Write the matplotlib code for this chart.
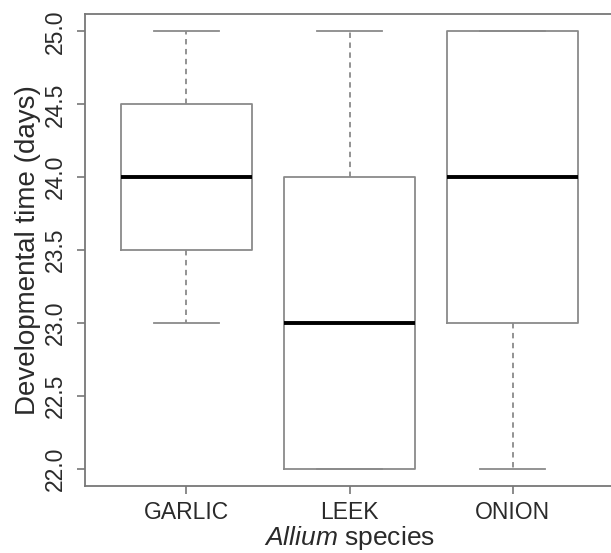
import matplotlib
matplotlib.use("Agg")
import matplotlib.pyplot as plt
import numpy as np

plt.rcParams['font.family'] = ['Liberation Sans', 'DejaVu Sans']
plt.rcParams['mathtext.fontset'] = 'custom'
plt.rcParams['mathtext.it'] = 'Liberation Sans:italic'
plt.rcParams['mathtext.rm'] = 'Liberation Sans'

# box statistics
species = ['GARLIC', 'LEEK', 'ONION']
whis_lo = [23.0, 22.0, 22.0]
q1 = [23.5, 22.0, 23.0]
median = [24.0, 23.0, 24.0]
q3 = [24.5, 24.0, 25.0]
whis_hi = [25.0, 25.0, 25.0]
yticks = [22.0, 22.5, 23.0, 23.5, 24.0, 24.5, 25.0]

stats = []
for i in range(len(species)):
    stats.append(dict(label=species[i], whislo=whis_lo[i], q1=q1[i],
                      med=median[i], q3=q3[i], whishi=whis_hi[i], fliers=[]))

grey = '#8a8a8a'
fig = plt.figure(figsize=(6.11, 5.53), dpi=100)
ax = fig.add_axes([85/611, 67/553, 529/611, 472/553])

ax.bxp(stats, positions=[1, 2, 3], widths=0.8, capwidths=0.4,
       showfliers=False, patch_artist=False,
       boxprops=dict(color=grey, linewidth=1.3),
       whiskerprops=dict(color=grey, linewidth=1.3, linestyle=(0, (3, 2.5))),
       capprops=dict(color=grey, linewidth=1.3),
       medianprops=dict(color='black', linewidth=2.8))

ax.set_xlim(0.38, 3.62)
ax.set_ylim(21.88, 25.12)
ax.set_yticks(yticks)
ax.set_yticklabels(['%.1f' % v for v in yticks], rotation=90, va='center')
ax.set_xticks([1, 2, 3])
ax.set_xticklabels(species)

for s in ax.spines.values():
    s.set_color('#777777')
    s.set_linewidth(1.3)
ax.tick_params(axis='both', length=6, width=1.2, color='#777777',
               labelsize=16.5, labelcolor='#2a2a2a', pad=7)
ax.tick_params(axis='x', pad=5)

ax.set_ylabel('Developmental time (days)', fontsize=20, color='#2a2a2a', labelpad=2)
ax.set_xlabel(r'$\mathit{Allium}$ species', fontsize=19, color='#2a2a2a', labelpad=0)

fig.savefig('out.png', dpi=100)
